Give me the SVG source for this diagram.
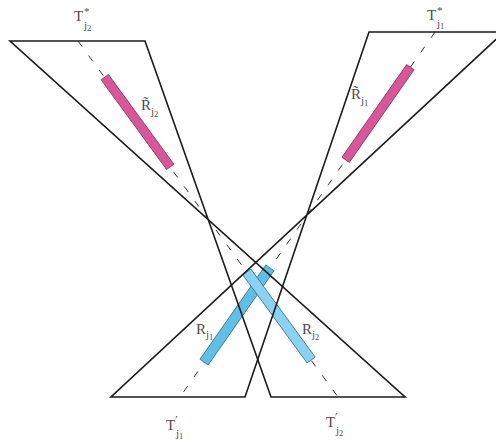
<svg xmlns="http://www.w3.org/2000/svg" width="496" height="440" viewBox="0 0 496 440">
<style>
.edge{fill:none;stroke:#1a1a1a;stroke-width:1.6;stroke-linejoin:miter}
.axis{fill:none;stroke:#333;stroke-width:1;stroke-dasharray:7 11}
.pink{fill:#d9569b;stroke:#7b3a5c;stroke-width:0.8}
.blue1{fill:#5fbfe7;stroke:#3b6f88;stroke-width:0.8}
.blue2{fill:#8bd1f1;stroke:#3b6f88;stroke-width:0.8}
text{font-family:"Liberation Serif","DejaVu Serif",serif;fill:#4d4d4d}
.m{font-size:15px}
.s{font-size:11px}
.ss{font-size:8.5px}
.p{font-family:"DejaVu Serif",serif;font-size:12px}
</style>
<rect width="496" height="440" fill="#ffffff"/>
<g id="axes">
<line class="axis" x1="78" y1="41" x2="338" y2="397"/>
<line class="axis" x1="435" y1="32" x2="180" y2="397"/>
</g>
<g id="bar-Rt-j2"><rect class="pink" x="-55.5" y="-4.5" width="111" height="9" transform="translate(137.5,122) rotate(53.86)"/></g>
<g id="bar-Rt-j1"><rect class="pink" x="-56.5" y="-4.5" width="113" height="9" transform="translate(378,113.5) rotate(124.94)"/></g>
<g id="bar-R-j1"><rect class="blue1" x="-57.5" y="-5" width="115" height="10" transform="translate(237,315) rotate(124.94)"/></g>
<g id="bar-R-j2"><rect class="blue2" x="-54.5" y="-5" width="109" height="10" transform="translate(279,316) rotate(53.86)"/></g>
<g id="connectors">
<path id="cone-j2" class="edge" d="M10 41 H145 L271 397 H405 Z"/>
<path id="cone-j1" class="edge" d="M369 32 H504 L111 397 H245 Z"/>
</g>
<g id="labels">
<g id="lbl-T-star-j2"><text class="m" x="74" y="21">T</text><text class="s" x="84" y="15">*</text><text class="s" x="84" y="29">j<tspan class="ss" dy="2">2</tspan></text></g>
<g id="lbl-T-star-j1"><text class="m" x="427" y="20">T</text><text class="s" x="437" y="14">*</text><text class="s" x="437" y="27">j<tspan class="ss" dy="2">1</tspan></text></g>
<g id="lbl-Rt-j2"><text class="m" x="141" y="110">R̃</text><text class="s" x="151" y="115">j<tspan class="ss" dy="2">2</tspan></text></g>
<g id="lbl-Rt-j1"><text class="m" x="351" y="99">R̃</text><text class="s" x="361" y="104">j<tspan class="ss" dy="2">1</tspan></text></g>
<g id="lbl-R-j1"><text class="m" x="196" y="334">R</text><text class="s" x="206" y="338">j<tspan class="ss" dy="2">1</tspan></text></g>
<g id="lbl-R-j2"><text class="m" x="302" y="334">R</text><text class="s" x="312" y="338">j<tspan class="ss" dy="2">2</tspan></text></g>
<g id="lbl-T-prime-j1"><text class="m" x="166" y="430">T</text><text class="p" x="175" y="426">′</text><text class="s" x="176" y="437">j<tspan class="ss" dy="2">1</tspan></text></g>
<g id="lbl-T-prime-j2"><text class="m" x="326" y="427">T</text><text class="p" x="335" y="423">′</text><text class="s" x="336" y="434">j<tspan class="ss" dy="2">2</tspan></text></g>
</g>
</svg>
